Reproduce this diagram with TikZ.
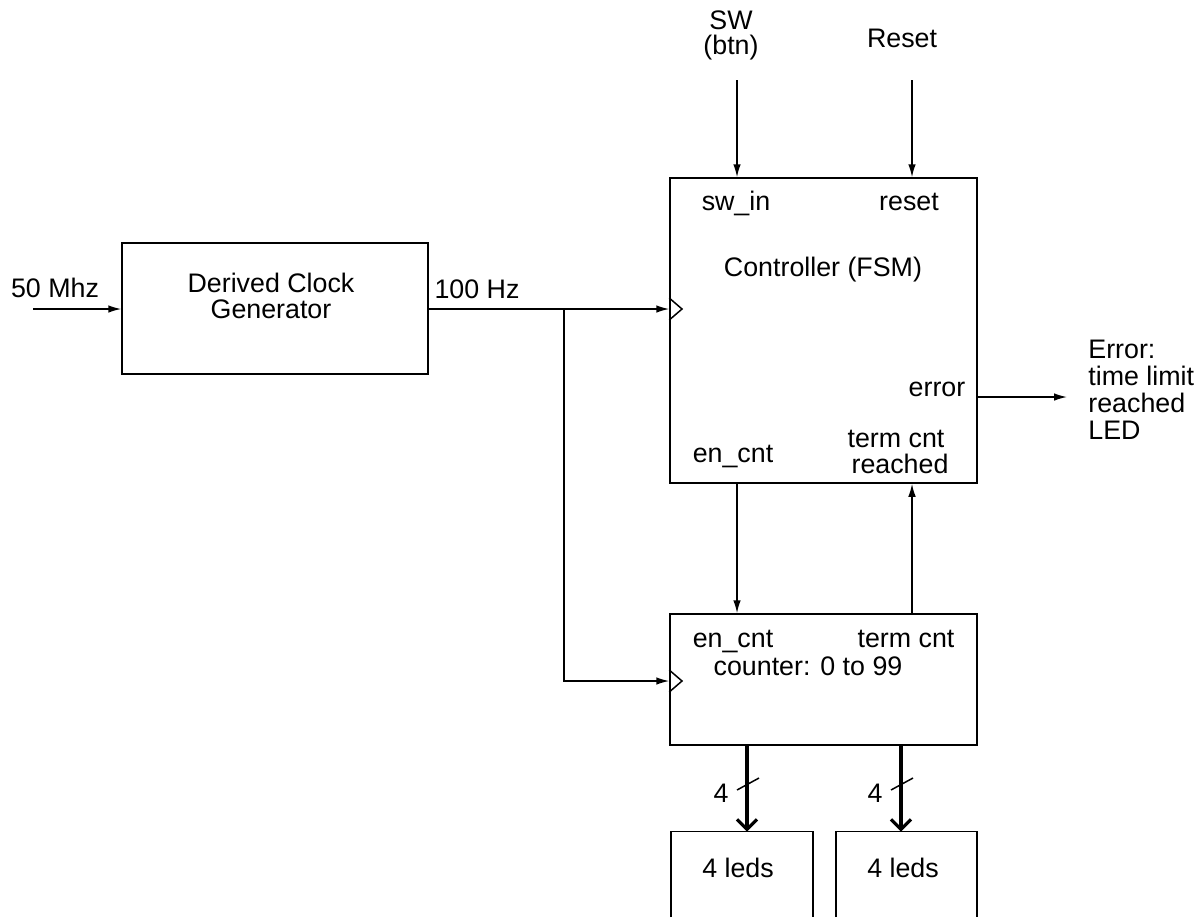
\documentclass[tikz,border=0pt]{standalone}
\usepackage{fontspec}
\setmainfont{Liberation Sans}
\usetikzlibrary{arrows.meta,fit}
\begin{document}
\begin{tikzpicture}[x=0.5pt,y=-0.5pt,
  blk/.style={draw, line width=0.75pt, inner sep=0pt},
  lbl/.style={inner sep=0pt, font=\fontsize{13.4}{13.4}\selectfont, anchor=base},
  sig/.style={line width=0.75pt, -{Latex[length=6.5pt,width=3.8pt]}},
  plain/.style={line width=0.75pt},
  bus/.style={line width=1.6pt, -{Straight Barb[length=5pt,width=10pt,line width=1.6pt]}},
  clk/.style={line width=0.75pt, line join=miter},
]
\useasboundingbox (0,0) rectangle (1199,917);

% blocks
\node[blk, fit={(122,243) (428,374)}] (gen) {};
\node[blk, fit={(670,178) (977,483)}] (ctrl) {};
\node[blk, fit={(670,614) (977,745)}] (cnt) {};

% LED blocks, open at the lower edge
\coordinate (l1a) at (671,917);
\coordinate (l1b) at (813,917);
\coordinate (l2a) at (836,917);
\coordinate (l2b) at (977,917);
\node[inner sep=0pt, fit={(671,833) (813,833)}] (led1) {};
\node[inner sep=0pt, fit={(836,833) (977,833)}] (led2) {};
\draw[plain] (l1a) -- (l1a |- led1.north) -- (l1b |- led1.north) -- (l1b);
\draw[plain] (l2a) -- (l2a |- led2.north) -- (l2b |- led2.north) -- (l2b);

% texts
\node[lbl] (gent) at (271,292) {Derived Clock};
\node[lbl] (gent2) at (271,318) {Generator};
\node[lbl] (in50) at (55,297) {50 Mhz};
\node[lbl] (f100) at (477,298) {100 Hz};
\node[lbl] (swin) at (736,210) {sw\_in};
\node[lbl] (rst) at (909,210) {reset};
\node[lbl] (fsm) at (823,276) {Controller (FSM)};
\node[lbl] (err) at (937,396) {error};
\node[lbl] (encA) at (733,462) {en\_cnt};
\node[lbl] (tcA) at (896,447) {term cnt};
\node[lbl] (tcB) at (900,473) {reached};
\node[lbl] (encB) at (733,647) {en\_cnt};
\node[lbl] (tcC) at (906,647) {term cnt};
\node[lbl] (cntt) at (808,675) {counter: 0 to 99};
\node[lbl] (swA) at (731,29) {SW};
\node[lbl] (swB) at (731,54) {(btn)};
\node[lbl] (rstin) at (902,47) {Reset};
\node[lbl, anchor=base west] (e1) at (1088,358) {Error:};
\node[lbl, anchor=base west] (e2) at (1088,385) {time limit};
\node[lbl, anchor=base west] (e3) at (1088,412) {reached};
\node[lbl, anchor=base west] (e4) at (1088,439) {LED};
\node[lbl] (w1) at (721,802) {4};
\node[lbl] (w2) at (875,802) {4};
\node[lbl] (led1t) at (738,877) {4 leds};
\node[lbl] (led2t) at (903,877) {4 leds};

% free ends of the signal lines
\coordinate (clkin) at (33,309);
\coordinate (tap) at (564,309);
\coordinate (swtop) at (737,80);
\coordinate (rsttop) at (912,80);
\coordinate (errend) at (1067,397);
\coordinate (encx) at (737,0);
\coordinate (tcx) at (912,0);
\coordinate (bus1) at (747,0);
\coordinate (bus2) at (901,0);

% clock path
\draw[sig] (clkin) -- (clkin -| gen.west);
\draw[plain] (gen.east |- tap) -- (tap);
\draw[sig] (tap) -- (tap -| ctrl.west);
\draw[sig] (tap) -- (tap |- 0,681) -- (ctrl.west |- 0,681);

% clock input marks
\draw[clk] (ctrl.west |- 0,298) -- (682,309) -- (ctrl.west |- 0,320);
\draw[clk] (cnt.west |- 0,670) -- (682,681) -- (cnt.west |- 0,692);

% controller inputs and outputs
\draw[sig] (swtop) -- (swtop |- ctrl.north);
\draw[sig] (rsttop) -- (rsttop |- ctrl.north);
\draw[sig] (ctrl.east |- errend) -- (errend);
\draw[sig] (encx |- ctrl.south) -- (encx |- cnt.north);
\draw[sig] (tcx |- cnt.north) -- (tcx |- ctrl.south);

% buses to the LEDs
\draw[bus] (bus1 |- cnt.south) -- (bus1 |- led1.north);
\draw[bus] (bus2 |- cnt.south) -- (bus2 |- led2.north);
\draw[plain] (737,790) -- (759,778);
\draw[plain] (891,790) -- (913,778);
\end{tikzpicture}
\end{document}
